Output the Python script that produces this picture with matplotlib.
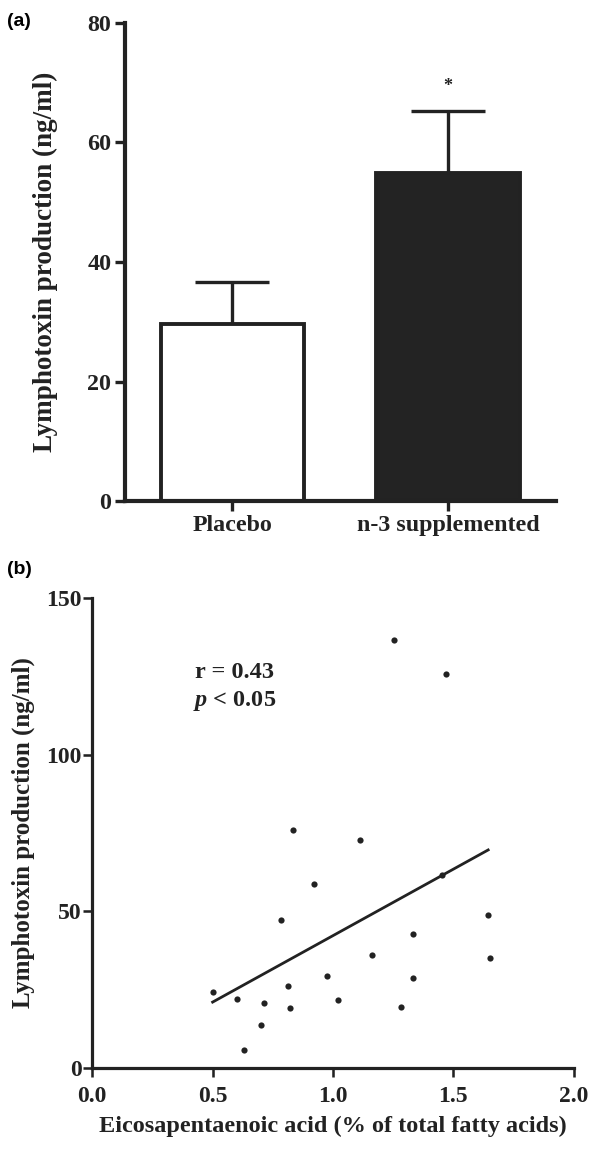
import matplotlib
matplotlib.use("Agg")
import matplotlib.pyplot as plt
import numpy as np

# ---- data ----
groups = ["Placebo", "n-3 supplemented"]
means = [29.7, 54.8]
sem_up = [6.9, 10.4]
bar_colors = ["white", "#232323"]
sig_marks = ["", "*"]

epa = [1.253, 1.471, 0.833, 1.113, 1.452, 0.923, 0.783, 1.643, 1.333, 1.164, 1.653,
       0.974, 1.333, 0.502, 0.812, 0.603, 0.712, 1.023, 0.822, 1.283, 0.702, 0.632]
lt = [136.4, 125.8, 76.1, 72.9, 61.7, 58.6, 47.2, 48.9, 42.7, 36.2, 35.1,
      29.4, 28.8, 24.4, 26.1, 22.2, 20.8, 21.7, 19.3, 19.4, 13.8, 5.8]
fit_x = [0.50, 1.645]
fit_y = [21.1, 69.6]
r_text = "r = 0.43"
p_text = r"$\mathbfit{p}$ < 0.05"

a_yticks = [0, 20, 40, 60, 80]
b_yticks = [0, 50, 100, 150]
b_xticks = [0.0, 0.5, 1.0, 1.5, 2.0]

W, H = 600, 1149
fig = plt.figure(figsize=(W / 100, H / 100), dpi=100)
serif = "Liberation Serif"
ink = "#222222"
plt.rcParams["mathtext.fontset"] = "custom"
plt.rcParams["mathtext.bfit"] = "Liberation Serif:italic:bold"
plt.rcParams["mathtext.it"] = "Liberation Serif:italic"


def px_axes(l, t, r, b):
    return fig.add_axes([l / W, 1 - b / H, (r - l) / W, (b - t) / H])


def style(ax, lw):
    for s in ["top", "right"]:
        ax.spines[s].set_visible(False)
    for s in ["left", "bottom"]:
        ax.spines[s].set_linewidth(lw)
        ax.spines[s].set_color(ink)
    ax.tick_params(direction="out", width=lw * 0.8, color=ink, labelcolor=ink)


def bold_ticks(ax, size):
    for lab in ax.get_xticklabels() + ax.get_yticklabels():
        lab.set_fontfamily(serif)
        lab.set_fontweight("bold")
        lab.set_fontsize(size)


# ---- panel (a) ----
ax1 = px_axes(124.5, 22.7, 556, 501.3)
x = np.arange(len(groups))
ax1.bar(x, means, width=0.664, color=bar_colors, edgecolor=ink, linewidth=2.8, zorder=2)
eb = ax1.errorbar(x, means, yerr=[[0] * len(means), sem_up], fmt="none", ecolor=ink,
                  elinewidth=2.4, capsize=26.3, capthick=2.4, zorder=1)
eb[1][0].set_visible(False)
for xi, m, e, s in zip(x, means, sem_up, sig_marks):
    if s:
        ax1.text(xi, m + e + 4.2, s, ha="center", va="center", fontsize=13,
                 family=serif, fontweight="bold", color=ink)
ax1.set_xlim(-0.5, 1.5)
ax1.set_ylim(0, 80)
ax1.set_yticks(a_yticks)
ax1.set_xticks(x)
ax1.set_xticklabels(groups)
style(ax1, 3.0)
ax1.tick_params(axis="y", length=7.5, pad=2)
ax1.tick_params(axis="x", length=7, pad=3)
bold_ticks(ax1, 17.3)
ax1.set_ylabel("Lymphotoxin production (ng/ml)", family=serif, fontweight="bold",
               fontsize=19.5, color=ink, labelpad=21)
fig.text(7 / W, 1 - 21.5 / H, "(a)", family="Liberation Sans", fontweight="bold",
         fontsize=14, color="black", va="center", ha="left")

# ---- panel (b) ----
ax2 = px_axes(92.3, 597.7, 573.6, 1068.3)
ax2.scatter(epa, lt, s=20, color=ink, zorder=3, linewidths=0)
ax2.plot(fit_x, fit_y, color=ink, linewidth=2.0)
ax2.set_xlim(0, 2.0)
ax2.set_ylim(0, 150)
ax2.set_xticks(b_xticks)
ax2.set_xticklabels([f"{v:.1f}" for v in b_xticks])
ax2.set_yticks(b_yticks)
style(ax2, 2.3)
ax2.tick_params(axis="y", length=6.5, pad=1)
ax2.tick_params(axis="x", length=6.5, pad=6.5)
bold_ticks(ax2, 17)
ax2.set_ylabel("Lymphotoxin production (ng/ml)", family=serif, fontweight="bold",
               fontsize=18, color=ink, labelpad=8)
ax2.set_xlabel("Eicosapentaenoic acid (% of total fatty acids)", family=serif,
               fontweight="bold", fontsize=17.5, color=ink, labelpad=6)
ax2.text(0.425, 126.2, r_text, family=serif, fontweight="bold", fontsize=17.5,
         color=ink, va="center", ha="left")
ax2.text(0.42, 117.1, p_text, family=serif, fontweight="bold",
         fontsize=17.5, color=ink, va="center", ha="left")
fig.text(7 / W, 1 - 569.5 / H, "(b)", family="Liberation Sans", fontweight="bold",
         fontsize=14, color="black", va="center", ha="left")

fig.savefig("out.png", dpi=100)
